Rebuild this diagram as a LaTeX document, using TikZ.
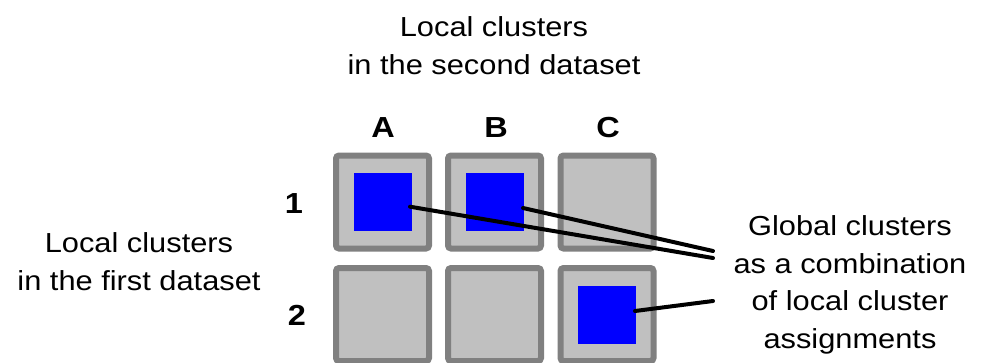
\documentclass[tikz,border=0pt]{standalone}
\usepackage{fontspec}
\setmainfont[FakeStretch=1.12]{Liberation Sans}
\definecolor{cellfill}{RGB}{192,192,192}
\definecolor{celledge}{RGB}{128,128,128}
\definecolor{clublue}{RGB}{0,0,255}
\begin{document}
\begin{tikzpicture}[x=1pt,y=-1pt,
  cell/.style={draw=celledge,fill=cellfill,line width=6pt,rounded corners=3pt,minimum size=93pt,inner sep=0pt},
  blob/.style={fill=clublue,minimum size=58pt,inner sep=0pt},
  lbl/.style={font=\fontsize{27.5}{37.7}\selectfont,align=center,inner sep=0pt,anchor=base},
  hdr/.style={font=\fontsize{29}{38}\selectfont\bfseries,inner sep=0pt,anchor=base},
  link/.style={line width=4pt,line cap=round}]
\useasboundingbox (0,0) rectangle (985,362);
\node[cell] (c1a) at (382.5,202) {};
\node[cell] (c1b) at (494.5,202) {};
\node[cell] (c1c) at (607,202) {};
\node[cell] (c2a) at (382.5,314.5) {};
\node[cell] (c2b) at (494.5,314.5) {};
\node[cell] (c2c) at (607,314.5) {};
\node[blob] (b1) at (383,202) {};
\node[blob] (b2) at (495,202) {};
\node[blob] (b3) at (607,315) {};
\node[hdr] (hA) at (383,137) {A};
\node[hdr] (hB) at (496,137) {B};
\node[hdr] (hC) at (608,137) {C};
\node[hdr] (r1) at (294,213) {1};
\node[hdr] (r2) at (297,325) {2};
\node[lbl] (top) at (494,74.5) {Local clusters\\in the second dataset};
\node[lbl] (left) at (139,290) {Local clusters\\in the first dataset};
\node[lbl] (right) at (850,348.5) {Global clusters\\as a combination\\of local cluster\\assignments};
\coordinate (s1) at (410,206.7);
\coordinate (s2) at (523,208);
\coordinate (s3) at (635,311);
\coordinate (e1) at (713,258);
\coordinate (e2) at (713,251);
\coordinate (e3) at (713,301);
\draw[link] (s1) -- (e1);
\draw[link] (s2) -- (e2);
\draw[link] (s3) -- (e3);
\end{tikzpicture}
\end{document}
